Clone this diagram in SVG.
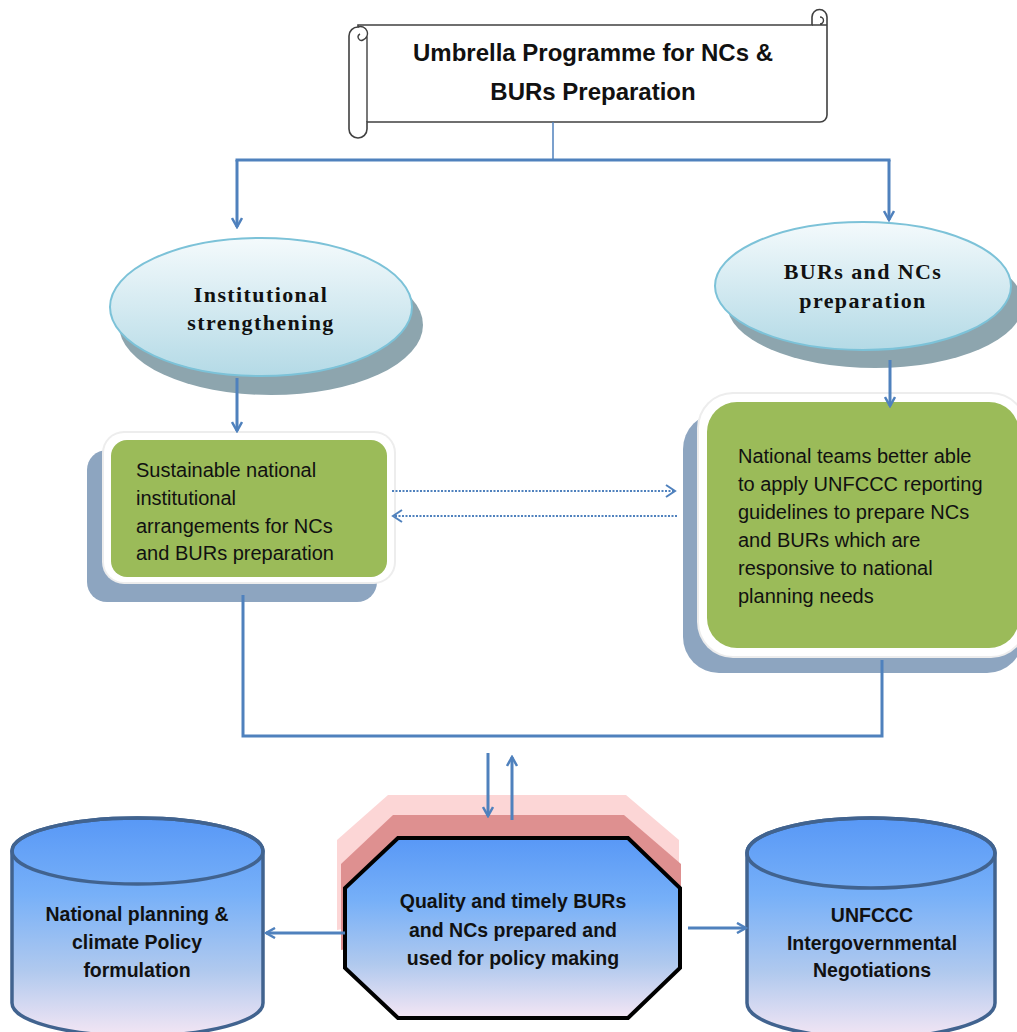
<svg xmlns="http://www.w3.org/2000/svg" width="1017" height="1032" viewBox="0 0 1017 1032">
<style>
.conn{stroke:#4F81BD;stroke-width:3;fill:none}
.dot{stroke:#4F81BD;stroke-width:2;fill:none;stroke-dasharray:2 1.5}
.serif{font-family:"Liberation Serif","Times New Roman",serif;font-weight:bold;font-size:22px;letter-spacing:1.4px;fill:#111;text-anchor:middle}
.box{font-family:"Liberation Sans",Arial,sans-serif;font-size:20px;fill:#111}
.bold{font-family:"Liberation Sans",Arial,sans-serif;font-weight:bold;font-size:19.5px;fill:#111;text-anchor:middle}
.title{font-family:"Liberation Sans",Arial,sans-serif;font-weight:bold;font-size:24px;fill:#111;text-anchor:middle}
.cyl{fill:url(#blueG);stroke:#41638F;stroke-width:3.5}
</style>
<defs>
<linearGradient id="blueG" x1="0" y1="0" x2="0" y2="1">
<stop offset="0" stop-color="#5898F6"/>
<stop offset="0.35" stop-color="#77B0F8"/>
<stop offset="0.7" stop-color="#B0C9EE"/>
<stop offset="1" stop-color="#F4E6F4"/>
</linearGradient>
<linearGradient id="ellG" x1="0" y1="0" x2="0" y2="1">
<stop offset="0" stop-color="#F4FAFC"/>
<stop offset="1" stop-color="#B4DAE6"/>
</linearGradient>
<marker id="ah" viewBox="0 0 12 12" refX="10" refY="6" markerWidth="12" markerHeight="12" markerUnits="userSpaceOnUse" orient="auto">
<path d="M1,1 L10,6 L1,11" fill="none" stroke="#4F81BD" stroke-width="2.5"/>
</marker>
<marker id="ahd" viewBox="0 0 12 14" refX="10" refY="7" markerWidth="12" markerHeight="14" markerUnits="userSpaceOnUse" orient="auto">
<path d="M1,1 L10,7 L1,13" fill="none" stroke="#4F81BD" stroke-width="2"/>
</marker>
</defs>
<rect width="1017" height="1032" fill="#ffffff"/>

<g id="title">
<path d="M358,25 H812 V17 A7.5,7.5 0 0 1 827,17 V115 A7,7 0 0 1 820,122 H367 V129 A9,9 0 0 1 349,129 V36 A9,9 0 0 1 358,27 Z" fill="#ffffff" stroke="#404040" stroke-width="1.6"/>
<path d="M812,25 H827 M820,17 A3.5,3.5 0 0 1 820,24 M367,36 V122 M358,27 A5,5 0 0 1 363,40 A3,3 0 0 1 360,34" fill="none" stroke="#404040" stroke-width="1.4"/>
<text class="title" x="593" y="61">Umbrella Programme for NCs &amp;</text>
<text class="title" x="593" y="100">BURs Preparation</text>
</g>

<g id="institutional">
<ellipse cx="271" cy="325" rx="152" ry="70" fill="#8DA5AE"/>
<ellipse cx="261" cy="307" rx="151" ry="69" fill="url(#ellG)" stroke="#7CC2D8" stroke-width="2"/>
<text class="serif" x="261" y="302">Institutional</text>
<text class="serif" x="261" y="330">strengthening</text>
</g>

<g id="burs-ncs">
<ellipse cx="875" cy="304" rx="148" ry="64" fill="#8DA5AE"/>
<ellipse cx="863" cy="286" rx="148" ry="64" fill="url(#ellG)" stroke="#7CC2D8" stroke-width="2"/>
<text class="serif" x="863" y="279">BURs and NCs</text>
<text class="serif" x="863" y="308">preparation</text>
</g>

<g id="sustainable">
<rect x="87" y="450" width="290" height="152" rx="20" fill="#8DA5C0"/>
<rect x="102" y="431" width="294" height="153" rx="22" fill="#EDEDED"/>
<rect x="104" y="433" width="290" height="149" rx="20" fill="#FFFFFF"/>
<rect x="111" y="440" width="276" height="137" rx="16" fill="#9BBB59"/>
<text class="box" x="136" y="477">Sustainable national</text>
<text class="box" x="136" y="505">institutional</text>
<text class="box" x="136" y="533">arrangements for NCs</text>
<text class="box" x="136" y="560">and BURs preparation</text>
</g>

<g id="national-teams">
<rect x="683" y="413" width="340" height="260" rx="36" fill="#8DA5C0"/>
<rect x="697" y="392" width="330" height="266" rx="36" fill="#EDEDED"/>
<rect x="699" y="394" width="326" height="262" rx="34" fill="#FFFFFF"/>
<rect x="707" y="402" width="312" height="246" rx="30" fill="#9BBB59"/>
<text class="box" x="738" y="463">National teams better able</text>
<text class="box" x="738" y="491">to apply UNFCCC reporting</text>
<text class="box" x="738" y="519">guidelines to prepare NCs</text>
<text class="box" x="738" y="547">and BURs which are</text>
<text class="box" x="738" y="575">responsive to national</text>
<text class="box" x="738" y="603">planning needs</text>
</g>

<g id="quality">
<polygon points="388,795 626,795 679,840 679,872 337,930 337,840" fill="#FCD6D6"/>
<polygon points="393,815 624,815 681,864 681,900 341,950 341,864" fill="#DE9090"/>
<polygon points="398,838 628,838 680,888 680,968 628,1018 398,1018 345,968 345,888" fill="url(#blueG)" stroke="#000000" stroke-width="4" stroke-linejoin="miter"/>
<text class="bold" x="513" y="908">Quality and timely BURs</text>
<text class="bold" x="513" y="937">and NCs prepared and</text>
<text class="bold" x="513" y="965">used for policy making</text>
</g>

<g id="national-planning">
<path class="cyl" d="M12,851 A125.5,33 0 0 1 263,851 V1003 A125.5,33 0 0 1 12,1003 Z"/>
<ellipse cx="137.5" cy="851" rx="125.5" ry="33" fill="none" stroke="#41638F" stroke-width="3.5"/>
<text class="bold" x="137" y="921">National planning &amp;</text>
<text class="bold" x="137" y="949">climate Policy</text>
<text class="bold" x="137" y="977">formulation</text>
</g>

<g id="unfccc">
<path class="cyl" d="M747,853 A124,35 0 0 1 995,853 V1003 A124,35 0 0 1 747,1003 Z"/>
<ellipse cx="871" cy="853" rx="124" ry="35" fill="none" stroke="#41638F" stroke-width="3.5"/>
<text class="bold" x="872" y="922">UNFCCC</text>
<text class="bold" x="872" y="950">Intergovernmental</text>
<text class="bold" x="872" y="977">Negotiations</text>
</g>

<g id="connectors">
<line x1="553" y1="122" x2="553" y2="160" stroke="#4F81BD" stroke-width="1.5"/>
<line class="conn" x1="235.5" y1="160" x2="890.5" y2="160"/>
<line class="conn" x1="237" y1="160" x2="237" y2="227" marker-end="url(#ah)"/>
<line class="conn" x1="889" y1="160" x2="889" y2="220" marker-end="url(#ah)"/>
<line class="conn" x1="237" y1="378" x2="237" y2="431" marker-end="url(#ah)"/>
<line class="conn" x1="890" y1="360" x2="890" y2="406" marker-end="url(#ah)"/>
<line class="dot" x1="392" y1="491" x2="675" y2="491" marker-end="url(#ahd)"/>
<line class="dot" x1="677" y1="516" x2="393" y2="516" marker-end="url(#ahd)"/>
<polyline class="conn" points="243,595 243,736 882,736 882,660"/>
<line class="conn" x1="488" y1="753" x2="488" y2="816" marker-end="url(#ah)"/>
<line class="conn" x1="512" y1="820" x2="512" y2="757" marker-end="url(#ah)"/>
<line class="conn" x1="345" y1="933" x2="266" y2="933" marker-end="url(#ah)"/>
<line class="conn" x1="688" y1="928" x2="746" y2="928" marker-end="url(#ah)"/>
</g>
</svg>
